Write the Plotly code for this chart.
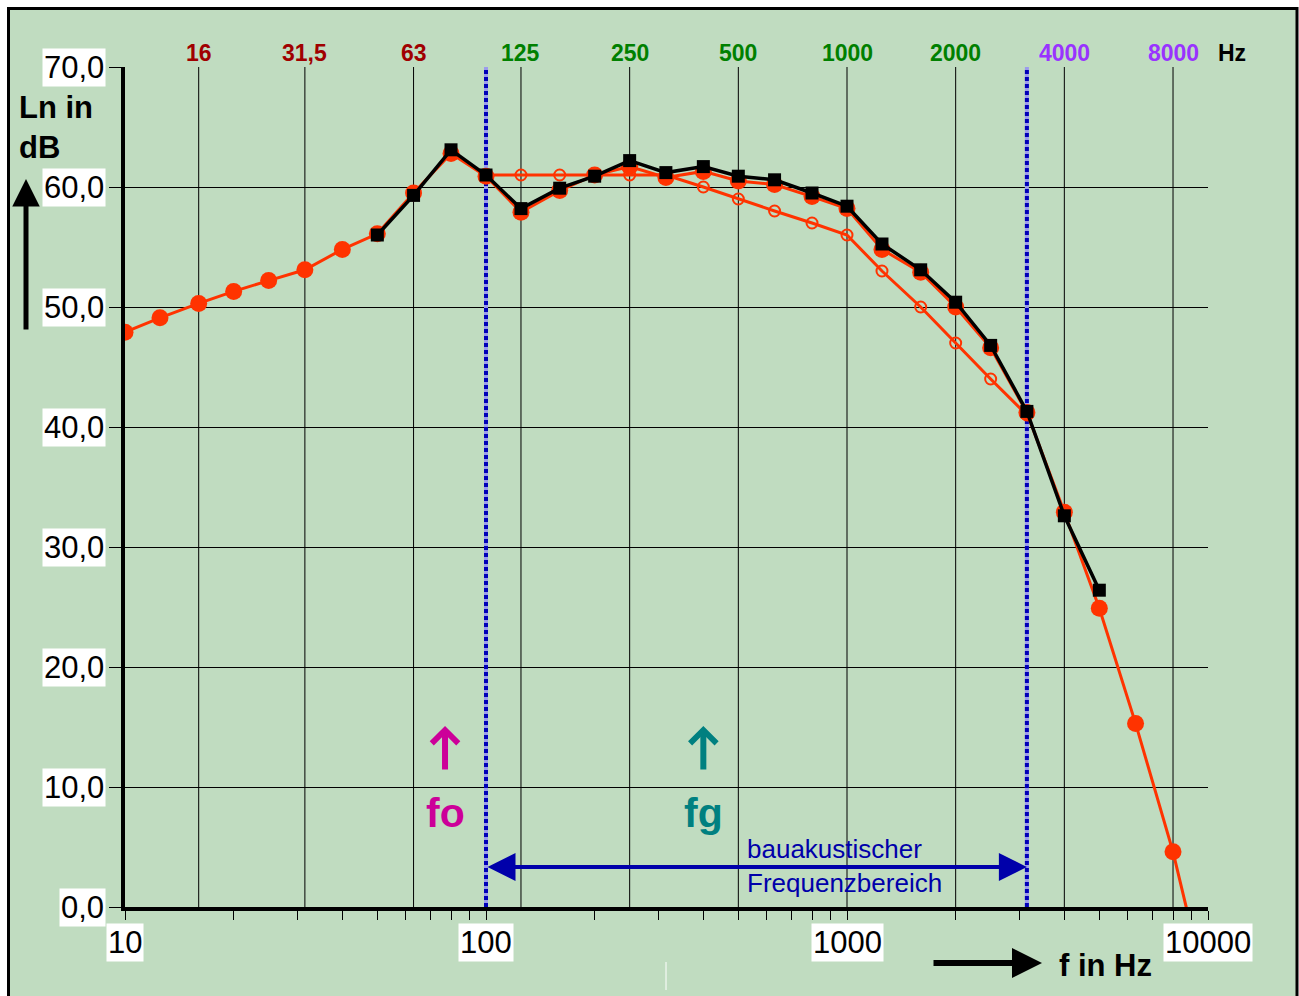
import math
import plotly.graph_objects as go

# ---------------- data ----------------
freqs = [10, 12.5, 16, 20, 25, 31.5, 40, 50, 63, 80, 100, 125, 160, 200, 250, 315,
         400, 500, 630, 800, 1000, 1250, 1600, 2000, 2500, 3150, 4000, 5000, 6300, 8000, 10000]
ln_red = [47.9, 49.1, 50.3, 51.3, 52.2, 53.1, 54.8, 56.1, 59.5, 62.8, 60.9, 57.9, 59.7, 61.0,
          61.7, 60.8, 61.3, 60.5, 60.2, 59.2, 58.2, 54.8, 52.9, 50.0, 46.6, 41.2, 32.9, 24.9,
          15.3, 4.6, -7.6]

black_freqs = [50, 63, 80, 100, 125, 160, 200, 250, 315, 400, 500, 630, 800, 1000, 1250,
               1600, 2000, 2500, 3150, 4000, 5000]
ln_black = [56.0, 59.3, 63.1, 61.0, 58.2, 59.9, 60.9, 62.2, 61.2, 61.7, 60.9, 60.6, 59.5,
            58.4, 55.25, 53.1, 50.4, 46.8, 41.3, 32.6, 26.4]

ref_freqs = [100, 125, 160, 200, 250, 315, 400, 500, 630, 800, 1000, 1250, 1600, 2000, 2500, 3150]
ln_ref = [61, 61, 61, 61, 61, 61, 60, 59, 58, 57, 56, 53, 50, 47, 44, 41]

octave_freqs = [16, 31.5, 63, 125, 250, 500, 1000, 2000, 4000, 8000]
octave_labels = ["16", "31,5", "63", "125", "250", "500", "1000", "2000", "4000", "8000"]
octave_colors = ["#A00000"] * 3 + ["#008000"] * 5 + ["#9933FF"] * 2

decade_vals = [10, 100, 1000, 10000]
decade_labels = ["10", "100", "1000", "10000"]

y_ticks = [0, 10, 20, 30, 40, 50, 60, 70]
y_labels = ["0,0", "10,0", "20,0", "30,0", "40,0", "50,0", "60,0", "70,0"]

range_bounds = [100, 3150]   # bauakustischer Frequenzbereich
range_arrow_y = 3.33
fo_freq = 77
fg_freq = 400

# ---------------- figure ----------------
W, H = 1299, 996
L, R, T, B = 125, 91, 67, 89
PW, PH = W - L - R, H - T - B


def px_x(p):
    return (p - L) / PW


def px_y(p):
    return (H - B - p) / PH


FONT = "Liberation Sans, Arial, Helvetica, sans-serif"
GREEN = "#C0DCC0"
RED = "#FF3300"

fig = go.Figure()

# octave grid lines
gx, gy = [], []
for f in octave_freqs:
    gx += [f, f, None]
    gy += [0, 70, None]
fig.add_trace(go.Scatter(x=gx, y=gy, mode="lines", line=dict(color="black", width=1),
                         hoverinfo="skip", showlegend=False))

# dotted range boundaries
for f in range_bounds:
    fig.add_trace(go.Scatter(x=[f, f], y=[0, 70], mode="lines",
                             line=dict(color="#9C9CEC", width=4), hoverinfo="skip", showlegend=False))
    fig.add_trace(go.Scatter(x=[f, f], y=[0, 70], mode="lines",
                             line=dict(color="#0000B8", width=4, dash="4px,3px"),
                             hoverinfo="skip", showlegend=False))

# measured (red filled)
fig.add_trace(go.Scatter(x=freqs, y=ln_red, mode="lines+markers",
                         line=dict(color=RED, width=3),
                         marker=dict(symbol="circle", size=17, color=RED),
                         showlegend=False))
# reference curve (red open)
fig.add_trace(go.Scatter(x=ref_freqs, y=ln_ref, mode="lines+markers",
                         line=dict(color=RED, width=3),
                         marker=dict(symbol="circle-open", size=11, color=RED, line=dict(width=2)),
                         showlegend=False))
# black squares
fig.add_trace(go.Scatter(x=black_freqs, y=ln_black, mode="lines+markers",
                         line=dict(color="black", width=3.5),
                         marker=dict(symbol="square", size=13, color="black"),
                         showlegend=False))

x_tick_pos = [m * 10 ** e for e in (1, 2, 3) for m in range(1, 10)] + [10000]

annotations = []
# y labels
for v, t in zip(y_ticks, y_labels):
    annotations.append(dict(x=px_x(106), xref="paper", xanchor="right", y=v, yref="y",
                            yanchor="middle", text=t, showarrow=False, bgcolor="white",
                            borderpad=1, font=dict(family=FONT, size=31, color="black")))
# x labels
for v, t in zip(decade_vals, decade_labels):
    annotations.append(dict(x=math.log10(v), xref="x", xanchor="center", y=px_y(942), yref="paper",
                            yanchor="middle", text=t, showarrow=False, bgcolor="white",
                            borderpad=1, font=dict(family=FONT, size=31, color="black")))
# octave labels at top
for f, t, c in zip(octave_freqs, octave_labels, octave_colors):
    annotations.append(dict(x=math.log10(f), xref="x", xanchor="center", y=px_y(53), yref="paper",
                            yanchor="middle", text="<b>%s</b>" % t, showarrow=False,
                            font=dict(family=FONT, size=23, color=c)))
annotations.append(dict(x=px_x(1216), xref="paper", xanchor="left", y=px_y(53), yref="paper",
                        yanchor="middle", text="<b>Hz</b>", showarrow=False,
                        font=dict(family=FONT, size=23, color="black")))
# y title
annotations.append(dict(x=px_x(17), xref="paper", xanchor="left", y=px_y(128), yref="paper",
                        yanchor="middle", text="<b>Ln in<br>dB</b>", align="left", showarrow=False,
                        font=dict(family=FONT, size=31, color="black")))
annotations.append(dict(x=px_x(26), xref="paper", y=px_y(179), yref="paper", text="",
                        showarrow=True, axref="pixel", ayref="pixel", ax=0, ay=152,
                        arrowhead=2, arrowsize=1.1, arrowwidth=5, arrowcolor="black"))
# x title
annotations.append(dict(x=px_x(1105), xref="paper", xanchor="center", y=px_y(965), yref="paper",
                        yanchor="middle", text="<b>f in Hz</b>", showarrow=False,
                        font=dict(family=FONT, size=31, color="black")))
annotations.append(dict(x=px_x(1042), xref="paper", y=px_y(963), yref="paper", text="",
                        showarrow=True, axref="pixel", ayref="pixel", ax=-110, ay=0,
                        arrowhead=2, arrowsize=1.0, arrowwidth=6, arrowcolor="black"))
# fo / fg
for f, lab, col in [(fo_freq, "fo", "#CC0099"), (fg_freq, "fg", "#008080")]:
    annotations.append(dict(x=math.log10(f), xref="x", y=px_y(726), yref="paper", text="",
                            showarrow=True, axref="pixel", ayref="pixel", ax=0, ay=45,
                            arrowhead=4, arrowsize=0.85, arrowwidth=6, arrowcolor=col))
    annotations.append(dict(x=math.log10(f), xref="x", xanchor="center", y=px_y(813), yref="paper",
                            yanchor="middle", text="<b>%s</b>" % lab, showarrow=False,
                            font=dict(family=FONT, size=41, color=col)))
# frequency range double arrow
annotations.append(dict(x=math.log10(range_bounds[1]), xref="x", y=range_arrow_y, yref="y",
                        ax=math.log10(range_bounds[0]), axref="x", ay=range_arrow_y, ayref="y",
                        text="", showarrow=True, arrowside="end+start", arrowhead=2,
                        arrowsize=1.4, arrowwidth=4, arrowcolor="#0000AA"))
annotations.append(dict(x=px_x(745), xref="paper", xanchor="left", y=px_y(866), yref="paper",
                        yanchor="middle", text="bauakustischer<br>Frequenzbereich", align="left",
                        showarrow=False, font=dict(family=FONT, size=26, color="#0000AA")))

shapes = [
    dict(type="rect", xref="paper", yref="paper", x0=px_x(8.5), x1=px_x(1297), y0=px_y(1020),
         y1=px_y(8.5), fillcolor=GREEN, line=dict(color="black", width=3), layer="below"),
    dict(type="line", xref="paper", yref="paper", x0=px_x(666), x1=px_x(666), y0=px_y(962),
         y1=px_y(990), line=dict(color="white", width=1)),
]

fig.update_layout(
    width=W, height=H,
    margin=dict(l=L, r=R, t=T, b=B),
    paper_bgcolor="white",
    plot_bgcolor=GREEN,
    showlegend=False,
    xaxis=dict(type="log", range=[1, 4], tickmode="array", tickvals=x_tick_pos,
               ticks="outside", ticklen=9, tickwidth=1, tickcolor="black",
               showticklabels=False, showgrid=False, zeroline=False,
               showline=True, linecolor="black", linewidth=4),
    yaxis=dict(range=[0, 70], tickmode="array", tickvals=y_ticks, ticks="outside", ticklen=12,
               tickwidth=1, tickcolor="black", showticklabels=False, showgrid=True,
               gridcolor="black", gridwidth=1, zeroline=False,
               showline=True, linecolor="black", linewidth=4),
    annotations=annotations,
    shapes=shapes,
)

fig.write_html("out.html")
